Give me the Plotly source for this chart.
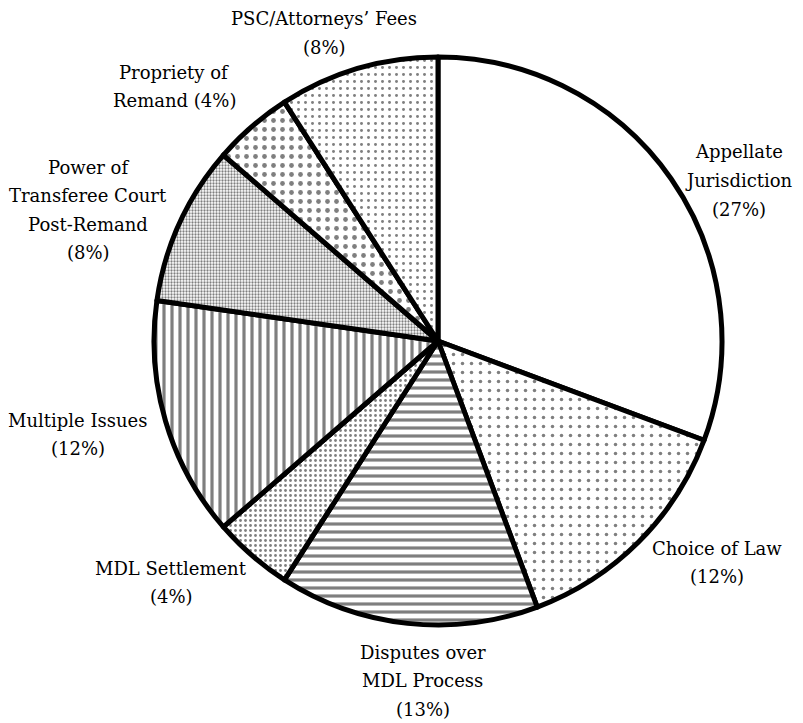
import plotly.graph_objects as go

categories = ["Appellate Jurisdiction", "Choice of Law", "Disputes over MDL Process",
              "MDL Settlement", "Multiple Issues", "Power of Transferee Court Post-Remand",
              "Propriety of Remand", "PSC/Attorneys' Fees"]
values = [27, 12, 13, 4, 12, 8, 4, 8]
label_lines = [["Appellate", "Jurisdiction", "(27%)"],
               ["Choice of Law", "(12%)"],
               ["Disputes over", "MDL Process", "(13%)"],
               ["MDL Settlement", "(4%)"],
               ["Multiple Issues", "(12%)"],
               ["Power of", "Transferee Court", "Post-Remand", "(8%)"],
               ["Propriety of", "Remand (4%)"],
               ["PSC/Attorneys’ Fees", "(8%)"]]
# label anchor (pixel centre of first line) in the 803x723 picture
label_px = [739, 717, 423, 171, 78, 88, 174, 324]
label_py = [152, 548, 652, 568, 420, 167, 72, 19]

shapes = ["", ".", "-", ".", "|", ".", ".", "."]
sizes = [8, 9, 8, 5, 8, 3, 9, 7]
solid = [0.1, 0.12, 0.4, 0.25, 0.4, 0.45, 0.22, 0.14]

W, H, OFF = 803, 723, 8  # page body margin offsets the figure by 8px


def px2paper(px, py):
    return (px - OFF) / W, 1 - (py - OFF) / H


cx, cy = px2paper(438, 341)
r = 284
fig = go.Figure(go.Pie(
    labels=categories, values=values, sort=False, direction="clockwise", rotation=0,
    textinfo="none", hoverinfo="label+percent", showlegend=False,
    marker=dict(colors=["white"] * 8, line=dict(color="black", width=5),
                pattern=dict(shape=shapes, size=sizes, solidity=solid,
                             fgcolor="black", bgcolor="white", fillmode="overlay")),
    domain=dict(x=[cx - r / W, cx + r / W], y=[cy - r / H, cy + r / H]),
))

font = dict(family="DejaVu Serif", size=18, color="black")
for lines, px, py in zip(label_lines, label_px, label_py):
    for i, t in enumerate(lines):
        x, y = px2paper(px, py + 28.5 * i)
        fig.add_annotation(text=t, x=x, y=y, xref="paper", yref="paper", showarrow=False,
                           xanchor="center", yanchor="middle", align="center", font=font)

fig.update_layout(width=W, height=H, margin=dict(l=0, r=0, t=0, b=0),
                  paper_bgcolor="white", plot_bgcolor="white",
                  font=dict(family="DejaVu Serif"))
fig.write_html("out.html")
